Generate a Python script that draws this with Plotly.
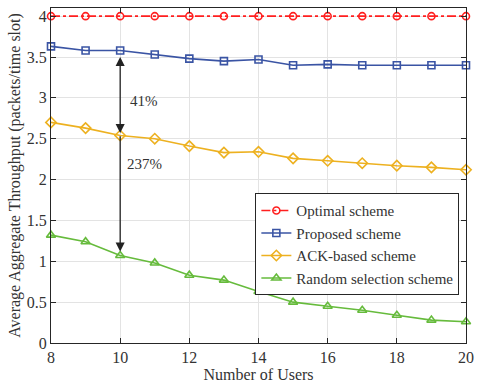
import plotly.graph_objects as go

users = [8, 9, 10, 11, 12, 13, 14, 15, 16, 17, 18, 19, 20]
optimal = [4.0] * 13
proposed = [3.63, 3.58, 3.58, 3.53, 3.48, 3.45, 3.47, 3.40, 3.41, 3.40, 3.40, 3.40, 3.40]
ack_based = [2.70, 2.63, 2.54, 2.50, 2.41, 2.33, 2.34, 2.26, 2.23, 2.20, 2.17, 2.15, 2.12]
random_sel = [1.32, 1.24, 1.07, 0.98, 0.83, 0.77, 0.63, 0.50, 0.45, 0.40, 0.34, 0.28, 0.26]

x_ticks = [8, 10, 12, 14, 16, 18, 20]
y_ticks = [0, 0.5, 1, 1.5, 2, 2.5, 3, 3.5, 4]
y_tick_text = ["0", "0.5", "1", "1.5", "2", "2.5", "3", "3.5", "4"]

FONT = "Liberation Serif, Times New Roman, serif"
AXIS_COLOR = "#262626"
TEXT_COLOR = "#333333"

series = [
    ("Optimal scheme", optimal, "#FF1F1F", "dashdot", "circle-open", 7),
    ("Proposed scheme", proposed, "#3A54A4", "solid", "square-open", 7),
    ("ACK-based scheme", ack_based, "#EDB120", "solid", "diamond-open", 8),
    ("Random selection scheme", random_sel, "#66BB3C", "solid", "triangle-up-open", 8),
]

fig = go.Figure()
for name, vals, color, dash, symbol, size in series:
    fig.add_trace(go.Scatter(
        x=users, y=vals, name=name, mode="lines+markers",
        line=dict(color=color, width=1.6, dash=dash),
        marker=dict(symbol=symbol, size=size, color=color,
                    line=dict(color=color, width=1.6)),
        cliponaxis=False,
    ))

# Gap arrows at 10 users
fig.add_annotation(x=10, y=2.57, ax=10, ay=3.52, xref="x", yref="y",
                   axref="x", ayref="y", showarrow=True, arrowhead=2,
                   arrowside="end+start", arrowsize=1.4, arrowwidth=1.3,
                   arrowcolor="#222222", text="")
fig.add_annotation(x=10, y=1.12, ax=10, ay=2.55, xref="x", yref="y",
                   axref="x", ayref="y", showarrow=True, arrowhead=2,
                   arrowsize=1.4, arrowwidth=1.3, arrowcolor="#222222", text="")
fig.add_annotation(x=10.22, y=2.96, xref="x", yref="y", text="41%",
                   showarrow=False, xanchor="left",
                   font=dict(family=FONT, size=15, color=TEXT_COLOR))
fig.add_annotation(x=10.15, y=2.19, xref="x", yref="y", text="237%",
                   showarrow=False, xanchor="left",
                   font=dict(family=FONT, size=15, color=TEXT_COLOR))

axis_common = dict(
    showline=True, linecolor=AXIS_COLOR, linewidth=1, mirror="ticks",
    ticks="inside", ticklen=5, tickcolor=AXIS_COLOR,
    showgrid=True, gridcolor="#E3E3E3", gridwidth=1, zeroline=False,
    tickfont=dict(family=FONT, size=16, color=TEXT_COLOR),
)

fig.update_xaxes(range=[8, 20], tickvals=x_ticks,
                 title=dict(text="Number of Users", standoff=2,
                            font=dict(family=FONT, size=16, color=TEXT_COLOR)),
                 **axis_common)
fig.update_yaxes(range=[0, 4.1], tickvals=y_ticks, ticktext=y_tick_text,
                 title=dict(text="Average Aggregate Throughput (packets/time slot)",
                            standoff=2,
                            font=dict(family=FONT, size=16, color=TEXT_COLOR)),
                 **axis_common)

fig.update_layout(
    width=481, height=386,
    margin=dict(l=51, r=8, t=7, b=42),
    plot_bgcolor="white", paper_bgcolor="white",
    font=dict(family=FONT, size=15, color=TEXT_COLOR),
    legend=dict(x=0.984, y=0.447, xanchor="right", yanchor="top",
                bgcolor="white", bordercolor="#262626", borderwidth=1,
                font=dict(family=FONT, size=15, color=TEXT_COLOR),
                tracegroupgap=0, itemwidth=30),
    showlegend=True,
)

fig.write_html("out.html")
